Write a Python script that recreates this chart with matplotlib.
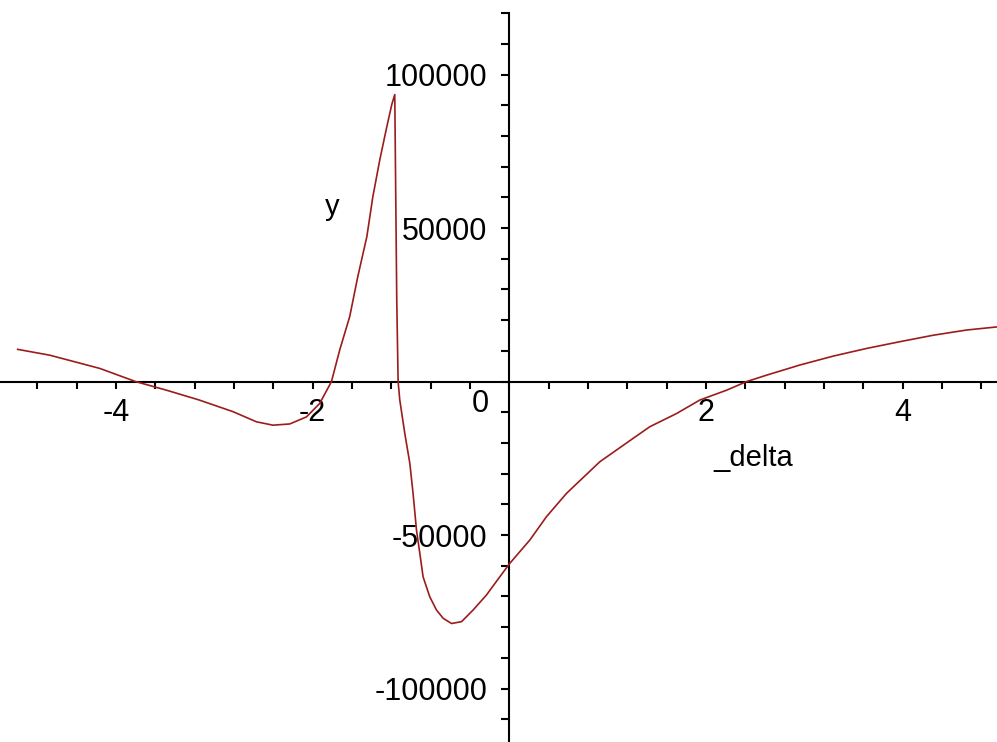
import numpy as np
import matplotlib
matplotlib.use('Agg')
import matplotlib.pyplot as plt
from matplotlib.ticker import FixedLocator, MultipleLocator

plt.rcParams['font.family'] = ['Liberation Sans', 'DejaVu Sans']

# 곡선 데이터
delta = [-5.00, -4.674, -4.166, -3.80, -3.487, -3.154, -2.810, -2.572, -2.403,
         -2.233, -2.063, -1.928, -1.809,
         -1.724, -1.623, -1.541, -1.449, -1.388, -1.317, -1.246, -1.195, -1.165,
         -1.145, -1.131, -1.114, -1.063, -1.012, -0.979, -0.944, -0.910, -0.877,
         -0.809, -0.741, -0.673, -0.588, -0.486, -0.368, -0.232, -0.097, 0.005,
         0.209, 0.378, 0.582, 0.921, 1.259, 1.429, 1.701, 1.938, 2.210, 2.413,
         2.617, 2.955, 3.294, 3.634, 3.973, 4.311, 4.651, 4.956]
y_vals = [10500, 8600, 4300, 0, -2800, -6000, -9800, -13100, -14200,
          -13800, -11500, -7100, 0,
          10400, 21200, 34200, 47200, 60200, 72300, 83000, 90300, 93500,
          27000, 0, -6000, -16900, -26600, -36400, -48400, -56000, -63600,
          -70100, -74400, -77100, -78800, -78200, -74400, -69500, -63600, -59200,
          -51600, -44000, -36400, -26100, -18500, -14700, -10400, -6000, -2800, 0,
          2100, 5400, 8300, 10800, 13000, 15100, 16800, 17800]

x_major = [-4, -2, 2, 4]
x_labels = ['-4', '-2', '2', '4']
y_major = [-100000, -50000, 50000, 100000]
y_labels = ['-100000', '-50000', '50000', '100000']

fig = plt.figure(figsize=(9.97, 7.42), dpi=100)
ax = fig.add_axes([0, 0, 1, 1])
ax.set_xlim(-5.18, 4.96)
ax.set_ylim(-117400, 124300)

ax.plot(delta, y_vals, color='#9b1c1c', lw=1.2, solid_joinstyle='round')

# 축 (원점 통과)
for side in ['top', 'right']:
    ax.spines[side].set_visible(False)
ax.spines['left'].set_position(('data', 0))
ax.spines['bottom'].set_position(('data', 0))
ax.spines['left'].set_bounds(-125000, 120000)
for side in ['left', 'bottom']:
    ax.spines[side].set_linewidth(1.5)
    ax.spines[side].set_zorder(1)

ax.xaxis.set_major_locator(FixedLocator(x_major))
ax.set_xticklabels(x_labels)
ax.xaxis.set_minor_locator(MultipleLocator(0.4))
ax.yaxis.set_major_locator(FixedLocator(y_major))
ax.set_yticklabels(y_labels)
ax.yaxis.set_minor_locator(MultipleLocator(10000))

ax.tick_params(axis='x', which='both', direction='out', length=5, width=1.5,
               labelsize=22, pad=7)
ax.tick_params(axis='y', which='both', direction='out', length=6, width=1.5,
               labelsize=22, pad=10)

ax.text(-0.29, -2500, '0', fontsize=22, ha='center', va='top')
ax.text(-1.80, 57000, 'y', fontsize=21, ha='center', va='center')
ax.text(2.48, -25000, '_delta', fontsize=21, ha='center', va='center')

fig.savefig('out.png', dpi=100)
plt.close(fig)
